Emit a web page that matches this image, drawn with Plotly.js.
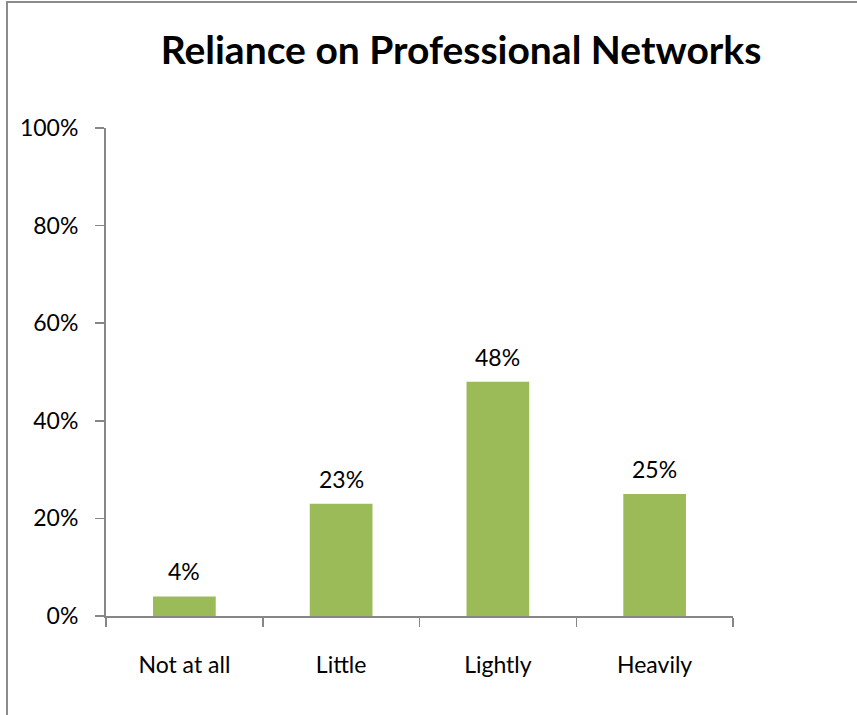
<!DOCTYPE html>
<html>
<head>
<meta charset="utf-8">
<script src="https://cdn.plot.ly/plotly-3.0.1.min.js"></script>
<style>
  html, body { margin: 0; padding: 0; background: #fff; }
  #wrap { position: relative; width: 857px; height: 715px; overflow: hidden; }
  #chart { width: 857px; height: 715px; }
  #frame { position: absolute; left: 6px; top: 1px; width: 900px; height: 800px;
           border-left: 2px solid #8c8c8c; border-top: 2px solid #8c8c8c; pointer-events: none; }
</style>
</head>
<body>
<div id="wrap">
  <div id="chart"></div>
  <div id="frame"></div>
</div>
<script>
const categories = ["Not at all", "Little", "Lightly", "Heavily"];
const shares = [0.04, 0.23, 0.48, 0.25];
const yTickValues = [0, 0.2, 0.4, 0.6, 0.8, 1.0];
const yTickLabels = ["0%", "20%", "40%", "60%", "80%", "100%"];
const chartTitle = "Reliance on Professional Networks";

const FONT = "Lato, 'Open Sans', sans-serif";
const AXIS_GRAY = "#868686";

const trace = {
  type: "bar",
  x: categories,
  y: shares,
  marker: { color: "#9BBB59", line: { width: 0 } },
  hoverinfo: "skip"
};

const annotations = categories.map((c, i) => ({
  x: c, y: shares[i], xref: "x", yref: "y",
  text: Math.round(shares[i] * 100) + "%",
  showarrow: false, yanchor: "bottom", yshift: 9,
  font: { family: FONT, size: 23, color: "#000" }
}));

const layout = {
  width: 857, height: 715,
  margin: { l: 106, r: 124, t: 128, b: 99, pad: 0 },
  paper_bgcolor: "#fff", plot_bgcolor: "#fff",
  showlegend: false,
  bargap: 0.6,
  title: {
    text: "<b>" + chartTitle + "</b>",
    font: { family: FONT, size: 39, color: "#000" },
    x: 461 / 857, xanchor: "center", xref: "container",
    y: 1 - 50 / 715, yanchor: "middle", yref: "container"
  },
  xaxis: {
    type: "category",
    showgrid: false, zeroline: false,
    showline: true, linecolor: AXIS_GRAY, linewidth: 2,
    ticks: "outside", tickson: "boundaries", ticklen: 9, tickwidth: 1.5, tickcolor: AXIS_GRAY,
    tickfont: { family: FONT, size: 23, color: "#000" },
    ticklabelstandoff: 27
  },
  yaxis: {
    range: [0, 1],
    tickvals: yTickValues, ticktext: yTickLabels,
    showgrid: false, zeroline: false,
    showline: true, linecolor: AXIS_GRAY, linewidth: 2,
    ticks: "outside", ticklen: 9, tickwidth: 1.5, tickcolor: AXIS_GRAY,
    tickfont: { family: FONT, size: 23, color: "#000" },
    ticklabelstandoff: 12
  },
  annotations: annotations
};

Plotly.newPlot("chart", [trace], layout, { displayModeBar: false, staticPlot: true });
</script>
</body>
</html>
